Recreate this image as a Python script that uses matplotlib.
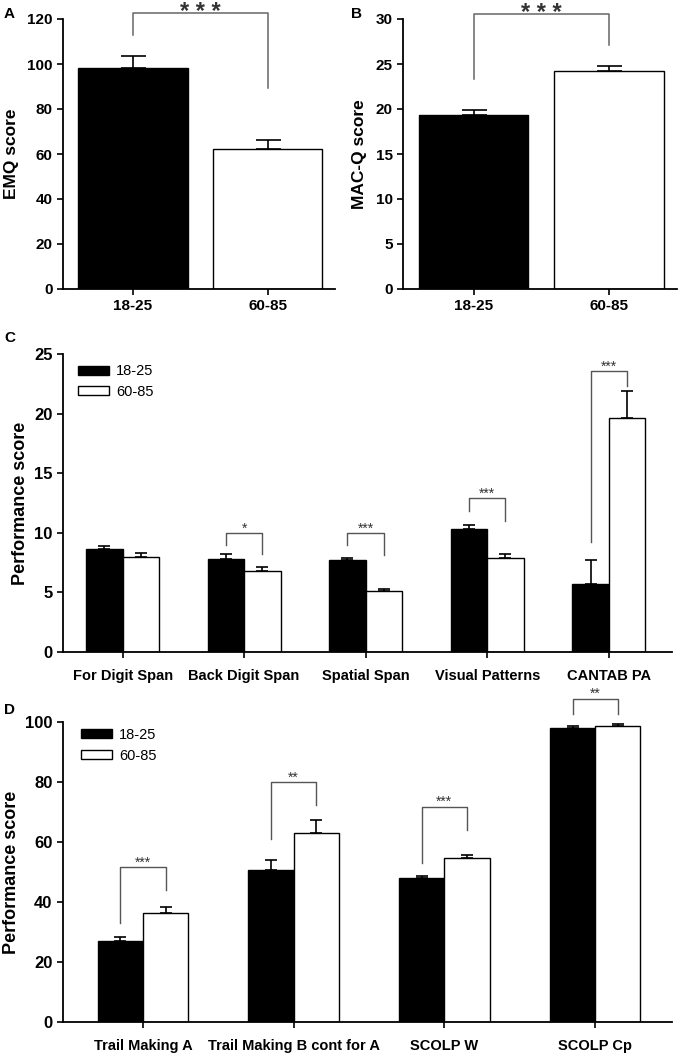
import numpy as np
import matplotlib
matplotlib.use('Agg')
import matplotlib.pyplot as plt

plt.rcParams['font.family'] = ['Liberation Sans', 'DejaVu Sans']

# data
groups = ['18-25', '60-85']

emq_mean = [98.2, 62.2]
emq_err = [5.4, 4.0]

macq_mean = [19.3, 24.2]
macq_err = [0.6, 0.6]

c_labels = ['For Digit Span', 'Back Digit Span', 'Spatial Span',
            'Visual Patterns', 'CANTAB PA']
c_young = [8.6, 7.8, 7.7, 10.3, 5.7]
c_young_err = [0.3, 0.4, 0.2, 0.35, 2.0]
c_old = [7.95, 6.8, 5.1, 7.9, 19.6]
c_old_err = [0.35, 0.3, 0.22, 0.28, 2.3]
# (group, bracket top, left leg end, right leg end, label)
c_sig = [(1, 9.98, 8.95, 8.18, '*'),
         (2, 9.98, 8.95, 8.12, '***'),
         (3, 12.9, 11.8, 11.0, '***'),
         (4, 23.55, 9.2, 22.3, '***')]

d_labels = ['Trail Making A', 'Trail Making B cont for A', 'SCOLP W', 'SCOLP Cp']
d_young = [26.9, 50.8, 47.9, 97.9]
d_young_err = [1.3, 3.1, 0.7, 0.7]
d_old = [36.3, 62.9, 54.8, 98.7]
d_old_err = [1.9, 4.5, 1.0, 0.5]
d_sig = [(0, 51.6, 33.0, 44.1, '***'),
         (1, 79.9, 61.1, 72.2, '**'),
         (2, 71.7, 53.0, 64.1, '***'),
         (3, 107.7, 102.8, 102.8, '**')]

W, H = 680, 1053
fig = plt.figure(figsize=(W / 100, H / 100), dpi=100)


def px_axes(left, right, top, bottom):
    return fig.add_axes([left / W, 1 - bottom / H, (right - left) / W, (bottom - top) / H])


def style(ax):
    for s in ['top', 'right']:
        ax.spines[s].set_visible(False)
    for s in ['left', 'bottom']:
        ax.spines[s].set_linewidth(1.3)
    ax.tick_params(direction='out', length=4, width=1.2)


def bracket(ax, x0, x1, top, l_end, r_end, label, fs, off, color='#555555', lw=1.0, bold=False):
    ax.plot([x0, x0, x1, x1], [l_end, top, top, r_end], color=color, lw=lw, clip_on=False)
    ax.annotate(label, xy=((x0 + x1) / 2, top), xytext=(0, off), textcoords='offset points',
                ha='center', va='baseline', fontsize=fs, color='#333333',
                fontweight='bold' if bold else 'normal', annotation_clip=False)


# ---- panel A / B
def two_bar(ax, mean, err, ylim, yticks, ylabel, sig):
    x = np.arange(2)
    ax.bar(x, mean, width=0.81, color=['black', 'white'], edgecolor='black', linewidth=1.0, zorder=2)
    ax.errorbar(x, mean, yerr=[[0, 0], err], fmt='none', ecolor='black', elinewidth=1.2,
                capsize=9, capthick=1.2, zorder=3)
    ax.set_xlim(-0.52, 1.5)
    ax.set_ylim(*ylim)
    ax.set_yticks(yticks)
    ax.set_xticks(x)
    ax.set_xticklabels(groups, fontsize=11, fontweight='bold')
    ax.set_yticklabels([str(t) for t in yticks], fontsize=11, fontweight='bold')
    ax.set_ylabel(ylabel, fontsize=12.5, fontweight='bold', labelpad=6)
    style(ax)
    top, l_end, r_end = sig
    bracket(ax, 0, 1, top, l_end, r_end, '* * *', 17, -4.5, color='#666666', lw=1.1, bold=True)


axA = px_axes(63, 335, 19, 289)
two_bar(axA, emq_mean, emq_err, (0, 120), range(0, 121, 20), 'EMQ score', (122.6, 113, 89.3))

axB = px_axes(403, 677, 19, 289)
two_bar(axB, macq_mean, macq_err, (0, 30), range(0, 31, 5), 'MAC-Q score', (30.6, 23.3, 27.1))


# ---- panel C / D
def grouped(ax, labels, young, yerr_y, old, yerr_o, ylim, yticks, xlim, sig, leg_anchor):
    x = np.arange(len(labels))
    w = 0.3
    n = len(labels)
    ax.bar(x - w / 2, young, width=w, color='black', edgecolor='black', linewidth=1.0,
           label=groups[0], zorder=2)
    ax.bar(x + w / 2, old, width=w, color='white', edgecolor='black', linewidth=1.0,
           label=groups[1], zorder=2)
    ax.errorbar(x - w / 2, young, yerr=[[0] * n, yerr_y], fmt='none', ecolor='black',
                elinewidth=1.2, capsize=4.5, capthick=1.2, zorder=3)
    ax.errorbar(x + w / 2, old, yerr=[[0] * n, yerr_o], fmt='none', ecolor='black',
                elinewidth=1.2, capsize=4.5, capthick=1.2, zorder=3)
    ax.set_xlim(*xlim)
    ax.set_ylim(*ylim)
    ax.set_yticks(yticks)
    ax.set_yticklabels([str(t) for t in yticks], fontsize=12, fontweight='bold')
    ax.set_xticks(x)
    ax.set_xticklabels(labels, fontsize=10.5, fontweight='bold')
    ax.tick_params(axis='x', pad=8)
    ax.set_ylabel('Performance score', fontsize=13, fontweight='bold', labelpad=4)
    style(ax)
    for i, top, l_end, r_end, lab in sig:
        bracket(ax, i - w / 2, i + w / 2, top, l_end, r_end, lab, 10, 0.5)
    leg = ax.legend(loc='upper left', bbox_to_anchor=leg_anchor, frameon=False,
                    fontsize=10.5, handlelength=2.1, handleheight=0.6,
                    borderpad=0, borderaxespad=0, labelspacing=0.45, handletextpad=0.5)
    for p in leg.get_patches():
        p.set_linewidth(1.0)


axC = px_axes(63, 672, 354, 652)
grouped(axC, c_labels, c_young, c_young_err, c_old, c_old_err, (0, 25), range(0, 26, 5),
        (-0.49, 4.52), c_sig, (0.025, 0.965))

axD = px_axes(63, 672, 722, 1022)
grouped(axD, d_labels, d_young, d_young_err, d_old, d_old_err, (0, 100), range(0, 101, 20),
        (-0.53, 3.51), d_sig, (0.03, 0.98))

# panel letters
for lab, x, y in [('A', 4, 14), ('B', 351, 14), ('C', 4, 338), ('D', 4, 710)]:
    fig.text(x / W, 1 - y / H, lab, fontsize=11, fontweight='bold', va='center', ha='left')

fig.savefig('out.png', dpi=100)
